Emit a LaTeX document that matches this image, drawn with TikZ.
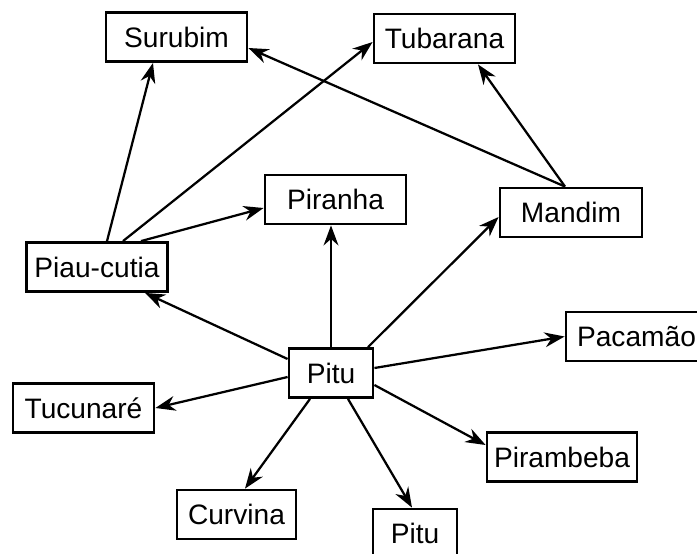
\documentclass[tikz,border=0pt]{standalone}
\usepackage{fontspec}
\setmainfont{Liberation Sans}
\usetikzlibrary{arrows.meta,calc}

\begin{document}
\begin{tikzpicture}[
    x=0.025cm, y=-0.025cm,
    box/.style={draw, line width=2pt, minimum height=1.225cm, minimum width=3.525cm, inner sep=2pt, font=\fontsize{20}{24}\selectfont},
    link/.style={-{Stealth[length=0.5cm, width=0.37cm]}, line width=1.6pt}
]
    \useasboundingbox (0,0) rectangle (697,553);
    \clip (0,0) rectangle (697,553);

    \node[box] (surubim) at (176.5,37) {Surubim};
    \node[box] (tubarana) at (444.5,38.5) {Tubarana};
    \node[box] (piranha) at (335.5,199.5) {Piranha};
    \node[box, minimum width=3.55cm] (mandim) at (571,212.5) {Mandim};
    \node[box] (piau) at (97,267) {Piau-cutia};
    \node[box] (pacamao) at (636.5,336.5) {Pacamão};
    \node[box, minimum width=2.1cm] (pitu) at (331,373) {Pitu};
    \node[box] (tucunare) at (83.5,408) {Tucunaré};
    \node[box, minimum width=3.75cm] (pirambeba) at (562,457) {Pirambeba};
    \node[box, minimum width=2.975cm] (curvina) at (236.5,514.5) {Curvina};
    \node[box, minimum width=2.1cm] (pitulow) at (415,533.5) {Pitu};

    \draw[link] ($(piau.north)+(10,0)$) -- ($(surubim.south)+(-23.5,0)$);
    \draw[link] ($(piau.north)+(26,0)$) -- ($(tubarana.west)+(0,3.5)$);
    \draw[link] ($(piau.north)+(44,0)$) -- ($(piranha.west)+(0,8.5)$);
    \draw[link] ($(mandim.north)+(-6,0)$) -- ($(surubim.east)+(0,11)$);
    \draw[link] ($(mandim.north)+(-6,0)$) -- ($(tubarana.south)+(33.5,0)$);
    \draw[link] (pitu.north) -- (pitu.north |- piranha.south);
    \draw[link] ($(pitu.north)+(37,0)$) -- ($(mandim.west)+(0,4.5)$);
    \draw[link] ($(pitu.west)+(0,-14)$) -- ($(piau.south)+(48,0)$);
    \draw[link] ($(pitu.west)+(0,4)$) -- (tucunare.east);
    \draw[link] ($(pitu.south)+(-21,0)$) -- ($(curvina.north)+(8.5,0)$);
    \draw[link] ($(pitu.south)+(17,0)$) -- ($(pitulow.north)+(-3,0)$);
    \draw[link] ($(pitu.east)+(0,12)$) -- ($(pirambeba.west)+(0,-12)$);
    \draw[link] ($(pitu.east)+(0,-5)$) -- (pacamao.west);
\end{tikzpicture}
\end{document}
